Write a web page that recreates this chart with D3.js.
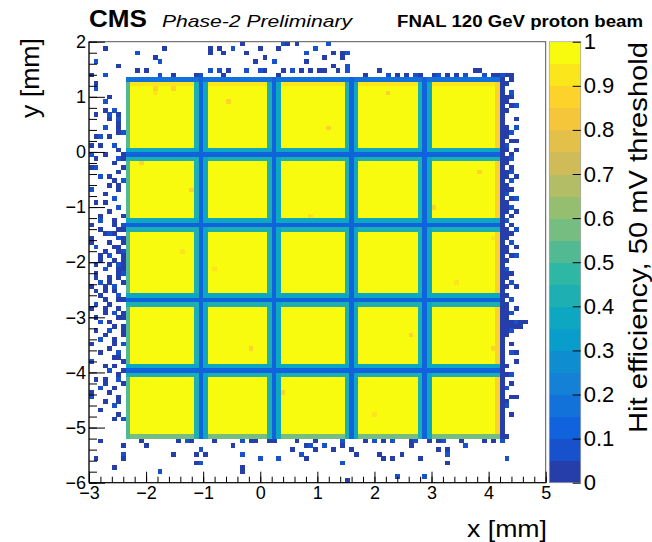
<!DOCTYPE html>
<html>
<head>
<meta charset="utf-8">
<script src="https://cdn.jsdelivr.net/npm/d3@7"></script>
<style>
  body { margin: 0; background: #fff; }
  svg { display: block; }
  text { font-family: "Liberation Sans", Arial, Helvetica, sans-serif; fill: #000; }
</style>
</head>
<body>
<svg id="chart" width="652" height="542"></svg>
<script>
// ---------- histogram definition ----------
const xRange = [-3, 5];
const yRange = [-6, 2];
const binSize = 0.08;              // mm, 100 x 100 bins

// sensor block and the 4+4 inter-pad gaps (mm)
const padX = [-2.36, 4.2];
const padY = [-5.2, 1.28];
const gapX = [-1.04, 0.24, 1.6, 2.88];
const gapY = [-3.96, -2.68, -1.32, -0.04];
// efficiency across a gap, bins -1..+1 around its centre
const gapProfile = [0.42, 0.1, 0.36];
// efficiency on the block border: [inner, outer]
const edgeLeft = 0.5;
const edgeRight = [0.86, 0.04];
const edgeTop = [0.9, 0.15];
const edgeBottom = 0.55;

// single lower-efficiency bins inside the pads [ix, iy, eff]
const speckles = [[14, 89, 0.86], [18, 89, 0.86], [14, 88, 0.9], [11, 72, 0.86], [13, 24, 0.86],
  [30, 86, 0.86], [48, 60, 0.9], [65, 88, 0.86], [80, 45, 0.9], [35, 30, 0.86], [62, 15, 0.9],
  [85, 70, 0.86], [20, 52, 0.9], [52, 80, 0.88], [70, 33, 0.88], [22, 66, 0.86], [27, 48, 0.9],
  [42, 20, 0.86], [58, 27, 0.9], [75, 62, 0.86], [88, 30, 0.86], [88, 55, 0.9], [56, 44, 0.9]];

// stray hits left of the sensor: rows iy 99 -> 0, columns ix 0..7  ('#' ~0, '+' ~0.07)
const leftStrip = [
  "........", "...#....", "........", "........", ".+......", "......#.", "........", "#..+....",
  "........", ".#......", ".+......", "........", "....#...", "...+....", "........", "...#.+..",
  ".#..+.#.", "....#.+.", "......#.", "...+..#.", "......#+", ".#+.#...", "........", "#.#..+..",
  "......#.", "+..#...#", ".#....+#", ".....#..", "#+.....#", "......#.", "..+.#...", ".....#.+",
  "....#.#.", "+.....#.", "...#....", ".....+..", ".#.#....", "......+.", "....#...", "..#....#",
  "..+..#..", "#....#.+", "..#...##", "...#+#..", "#.....+#", "#...#..#", ".+...##.", "...#..#+",
  "..#.+..#", "..#..#.#", ".#..#.+#", "...+..##", ".#....#+", ".#..#.#.", "..+.#..#", "#..#.+..",
  ".#.#.#..", "..#...+.", "...#..##", ".+..#...", "#..#..#.", "...#.+.#", ".#....##", "..+.#...",
  ".....#.#", ".#..+..#", "...#...#", "..+..#..", "#....#.+", "....#...", "..#...+.", ".....##.",
  "+......#", "...#.#..", "....+..#", "......#.", ".#.#..+.", "...#...#", "..+..#..", "#...#...",
  "+.....#.", "...#..#.", ".....+..", "..#.....", "......#.", ".....#.+", "........", "........",
  "........", "........", "..#.....", ".......#", "........", ".......+", ".#.....#", "........",
  ".....#..", "........", "........", "........"
];
const leftStripTop = 99;

// stray hits right of the sensor: rows iy 93 -> 5, columns ix 91..95
const rightStrip = [
  ".....", "##...", ".#...", "#....", ".....", ".+...", "##...", "#....", ".#+..", "#....",
  ".....", "..#..", ".....", "#.+..", "#+...", "#....", ".##..", "+....", "#.#..", ".#...",
  "#+...", "#....", ".#...", "#+...", "#.#..", ".+...", "#....", "##...", "+....", ".#+..",
  "#....", "#+...", "#.#..", ".#...", "+....", ".#...", "#.+..", "##...", "#....", ".+...",
  "#.#..", "#....", ".#+..", "#....", ".....", "+....", "##...", "#....", ".+...", "#.#..",
  ".....", "#....", ".+...", "#....", "#.#..", "#+...", "#....", "##+##", "####.", "#+...",
  "#....", ".....", ".#...", ".....", ".+#..", ".....", "..#..", "#....", ".....", "#+...",
  ".....", ".#...", "+....", ".....", ".##..", "#....", "+....", ".....", ".#...", ".....",
  ".....", ".....", ".....", "#....", ".....", ".....", ".....", ".....", "+...."
];
const rightStripTop = 93;
const rightStripX0 = 91;

// stray hits above and below the sensor [ix, iy]
const topHits = [[10, 97], [16, 98], [14, 96], [15, 95], [10, 93], [12, 93], [15, 92], [18, 92],
  [23, 92], [24, 92], [26, 98], [26, 97], [26, 93], [28, 98], [29, 97], [28, 93], [29, 92], [30, 93],
  [31, 98], [33, 99], [34, 97], [34, 93], [36, 95], [37, 98], [37, 93], [38, 96], [38, 93], [40, 95],
  [41, 98], [41, 92], [42, 99], [43, 99], [42, 93], [44, 93], [45, 99], [46, 93], [47, 97], [47, 95],
  [48, 93], [49, 98], [50, 93], [51, 96], [52, 99], [53, 97], [55, 97], [56, 97], [55, 96], [53, 94],
  [56, 94], [51, 93], [54, 93], [56, 93], [60, 92], [63, 93], [65, 92], [67, 92], [69, 92], [71, 92],
  [72, 92], [75, 92], [76, 92], [78, 92], [80, 92], [82, 92], [84, 93], [85, 93], [86, 92], [88, 92],
  [89, 92], [90, 92]];
const bottomHits = [[11, 9], [12, 8], [15, 2], [18, 6], [19, 9], [21, 9], [22, 9], [23, 6], [24, 7],
  [25, 6], [23, 4], [24, 4], [27, 9], [31, 8], [33, 9], [35, 9], [36, 9], [33, 6], [33, 3], [33, 2],
  [37, 5], [39, 9], [40, 9], [41, 5], [44, 7], [45, 9], [46, 6], [47, 5], [47, 8], [48, 8], [49, 9],
  [49, 7], [51, 8], [53, 7], [55, 8], [55, 9], [57, 7], [58, 6], [55, 4], [56, 0], [60, 9], [62, 9],
  [63, 6], [64, 9], [66, 9], [64, 5], [66, 5], [67, 1], [68, 6], [70, 9], [71, 9], [70, 8], [72, 5],
  [73, 1], [74, 9], [76, 9], [77, 9], [76, 7], [78, 7], [78, 6], [78, 4], [81, 9], [82, 8], [86, 9],
  [88, 9], [90, 9]];
const hitEff = { "#": 0.02, "+": 0.07 };

// axis ticks
const xTicks = [-3, -2, -1, 0, 1, 2, 3, 4, 5];
const yTicks = [-6, -5, -4, -3, -2, -1, 0, 1, 2];
const zTicks = [0, 0.1, 0.2, 0.3, 0.4, 0.5, 0.6, 0.7, 0.8, 0.9, 1];

// ROOT kBird palette stops
const birdStops = [0, 0.125, 0.25, 0.375, 0.5, 0.625, 0.75, 0.875, 1];
const birdR = [0.2082, 0.0592, 0.0780, 0.0232, 0.1802, 0.5301, 0.8186, 0.9956, 0.9764];
const birdG = [0.1664, 0.3599, 0.5041, 0.6419, 0.7178, 0.7492, 0.7328, 0.7862, 0.9832];
const birdB = [0.5293, 0.8684, 0.8385, 0.7914, 0.6425, 0.4662, 0.3499, 0.1968, 0.0539];
const nContours = 20;

// ---------- layout ----------
const frame = { left: 89, right: 545.7, top: 41.7, bottom: 482.7 };
const cbar = { left: 549.3, right: 580.7 };

const svg = d3.select("#chart");

const xScale = d3.scaleLinear().domain(xRange).range([frame.left, frame.right]);
const yScale = d3.scaleLinear().domain(yRange).range([frame.bottom, frame.top]);
const zScale = d3.scaleLinear().domain([0, 1]).range([frame.bottom, frame.top]);

const bird = d3.scaleLinear()
  .domain(birdStops)
  .range(birdStops.map((s, i) => d3.rgb(birdR[i] * 255, birdG[i] * 255, birdB[i] * 255)))
  .interpolate(d3.interpolateRgb);
const colorOf = (v) => {
  const band = Math.max(0, Math.min(nContours - 1, Math.floor(v * nContours)));
  return bird((band + 0.99) / nContours);
};

// ---------- build bin contents ----------
const nx = Math.round((xRange[1] - xRange[0]) / binSize);
const ny = Math.round((yRange[1] - yRange[0]) / binSize);
const cx = (i) => xRange[0] + (i + 0.5) * binSize;
const cy = (j) => yRange[0] + (j + 0.5) * binSize;
const padCols = d3.range(nx).filter((i) => cx(i) > padX[0] && cx(i) < padX[1]);
const padRows = d3.range(ny).filter((j) => cy(j) > padY[0] && cy(j) < padY[1]);
const col0 = padCols[0], col1 = padCols[padCols.length - 1];
const row0 = padRows[0], row1 = padRows[padRows.length - 1];

const half = (gapProfile.length - 1) / 2;
const gapValue = (c, gaps) => d3.min(gaps, (g) => {
  const o = Math.round((c - g) / binSize);
  return Math.abs(o) <= half ? gapProfile[o + half] : 1;
});

const eff = new Map();
const key = (i, j) => i + "," + j;

padCols.concat([col1 + 1]).forEach((i) => {
  padRows.concat([row1 + 1]).forEach((j) => {
    let v;
    if (i === col1 + 1) v = edgeRight[1];
    else if (j === row1 + 1) v = edgeTop[1];
    else {
      v = 1;
      if (i === col0) v = Math.min(v, edgeLeft);
      if (i === col1) v = Math.min(v, edgeRight[0]);
      if (j === row0) v = Math.min(v, edgeBottom);
      if (j === row1) v = Math.min(v, edgeTop[0]);
    }
    if (i <= col1) v = Math.min(v, gapValue(cx(i), gapX));
    if (j <= row1) v = Math.min(v, gapValue(cy(j), gapY));
    eff.set(key(i, j), v);
  });
});

speckles.forEach(([i, j, v]) => {
  if (eff.get(key(i, j)) === 1) eff.set(key(i, j), v);
});

leftStrip.forEach((row, r) => {
  row.split("").forEach((ch, i) => {
    if (hitEff[ch] !== undefined) eff.set(key(i, leftStripTop - r), hitEff[ch]);
  });
});
rightStrip.forEach((row, r) => {
  row.split("").forEach((ch, k) => {
    if (hitEff[ch] !== undefined) eff.set(key(rightStripX0 + k, rightStripTop - r), hitEff[ch]);
  });
});
topHits.concat(bottomHits).forEach(([i, j], n) => {
  eff.set(key(i, j), n % 3 === 0 ? hitEff["+"] : hitEff["#"]);
});

const cells = Array.from(eff, ([k, v]) => {
  const [i, j] = k.split(",").map(Number);
  return { i, j, v };
});

// ---------- draw the 2D histogram ----------
const bw = xScale(binSize) - xScale(0);
const bh = yScale(0) - yScale(binSize);

svg.append("g")
  .attr("shape-rendering", "crispEdges")
  .selectAll("rect")
  .data(cells)
  .join("rect")
  .attr("x", (d) => xScale(xRange[0] + d.i * binSize))
  .attr("y", (d) => yScale(yRange[0] + (d.j + 1) * binSize))
  .attr("width", bw + 0.3)
  .attr("height", bh + 0.3)
  .attr("fill", (d) => colorOf(d.v));

// frame
svg.append("rect")
  .attr("x", frame.left).attr("y", frame.top)
  .attr("width", frame.right - frame.left).attr("height", frame.bottom - frame.top)
  .attr("fill", "none").attr("stroke", "#555").attr("stroke-width", 1);

// ---------- axes (ROOT style ticks pointing inside) ----------
const xMinor = d3.range(-3, 5.0001, 0.2);
const yMinor = d3.range(-6, 2.0001, 0.2);

const xMinorG = svg.append("g").attr("transform", `translate(0,${frame.bottom})`)
  .call(d3.axisBottom(xScale).tickValues(xMinor).tickSize(-6).tickFormat(""));
const xAxisG = svg.append("g").attr("transform", `translate(0,${frame.bottom})`)
  .call(d3.axisBottom(xScale).tickValues(xTicks).tickSize(-11).tickPadding(4).tickFormat(d3.format("d")));
const yMinorG = svg.append("g").attr("transform", `translate(${frame.left},0)`)
  .call(d3.axisLeft(yScale).tickValues(yMinor).tickSize(-8).tickFormat(""));
const yAxisG = svg.append("g").attr("transform", `translate(${frame.left},0)`)
  .call(d3.axisLeft(yScale).tickValues(yTicks).tickSize(-16).tickPadding(3).tickFormat(d3.format("d")));

[xMinorG, xAxisG, yMinorG, yAxisG].forEach((g) => {
  g.select(".domain").remove();
  g.selectAll("line").attr("stroke", "#000");
  g.selectAll("text").attr("font-size", 18).attr("font-family", null);
});
svg.append("line").attr("x1", frame.left).attr("x2", frame.right)
  .attr("y1", frame.bottom).attr("y2", frame.bottom).attr("stroke", "#000");
svg.append("line").attr("x1", frame.left).attr("x2", frame.left)
  .attr("y1", frame.top).attr("y2", frame.bottom).attr("stroke", "#000");

// ---------- colour bar ----------
const bands = d3.range(nContours);
svg.append("g")
  .attr("shape-rendering", "crispEdges")
  .selectAll("rect")
  .data(bands)
  .join("rect")
  .attr("x", cbar.left)
  .attr("y", (k) => zScale((k + 1) / nContours))
  .attr("width", cbar.right - cbar.left)
  .attr("height", (k) => zScale(k / nContours) - zScale((k + 1) / nContours) + 0.5)
  .attr("fill", (k) => colorOf((k + 0.5) / nContours));
svg.append("rect")
  .attr("x", cbar.left).attr("y", frame.top)
  .attr("width", cbar.right - cbar.left).attr("height", frame.bottom - frame.top)
  .attr("fill", "none").attr("stroke", "#aaa").attr("stroke-width", 0.8);

const zAxisG = svg.append("g").attr("transform", `translate(${cbar.right},0)`)
  .call(d3.axisRight(zScale).tickValues(zTicks).tickSize(-8).tickPadding(3)
    .tickFormat((d) => (d === 0 || d === 1) ? String(d) : d.toFixed(1)));
zAxisG.select(".domain").remove();
zAxisG.selectAll("line").attr("stroke", "#000");
zAxisG.selectAll("text").attr("font-size", 22).attr("font-family", null);

// ---------- titles ----------
svg.append("text").attr("x", 89).attr("y", 27)
  .attr("font-size", 24).attr("font-weight", "bold")
  .attr("textLength", 58).attr("lengthAdjust", "spacingAndGlyphs")
  .text("CMS");
svg.append("text").attr("x", 162).attr("y", 27)
  .attr("font-size", 17).attr("font-style", "italic")
  .attr("textLength", 190).attr("lengthAdjust", "spacingAndGlyphs")
  .text("Phase-2 Preliminary");
svg.append("text").attr("x", 397).attr("y", 27)
  .attr("font-size", 16).attr("font-weight", "bold")
  .attr("textLength", 246).attr("lengthAdjust", "spacingAndGlyphs")
  .text("FNAL 120 GeV proton beam");

svg.append("text").attr("x", 547).attr("y", 537)
  .attr("text-anchor", "end").attr("font-size", 24)
  .attr("textLength", 80).attr("lengthAdjust", "spacingAndGlyphs")
  .text("x [mm]");
svg.append("text")
  .attr("transform", "translate(39,38) rotate(-90)")
  .attr("text-anchor", "end").attr("font-size", 26)
  .attr("textLength", 80).attr("lengthAdjust", "spacingAndGlyphs")
  .text("y [mm]");
svg.append("text")
  .attr("transform", "translate(646.5,433) rotate(-90)")
  .attr("text-anchor", "start").attr("font-size", 25)
  .attr("textLength", 391).attr("lengthAdjust", "spacingAndGlyphs")
  .text("Hit efficiency, 50 mV threshold");
</script>
</body>
</html>
